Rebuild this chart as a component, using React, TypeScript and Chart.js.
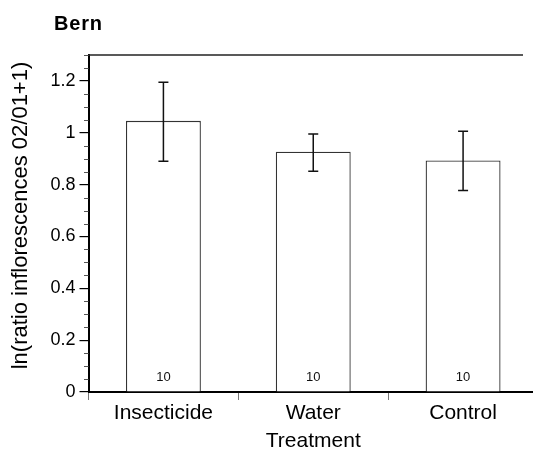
import React, { useEffect, useRef } from "react";
import { Chart, registerables } from "chart.js";

Chart.register(...registerables);

const categories = ["Insecticide", "Water", "Control"];
const means = [1.046, 0.927, 0.893];
const errHigh = [1.195, 0.995, 1.006];
const errLow = [0.89, 0.852, 0.777];
const sampleSizes = [10, 10, 10];
const chartTitle = "Bern";
const xTitle = "Treatment";
const yTitle = "ln(ratio inflorescences 02/01+1)";

const FONT = "'Liberation Sans', Arial, Helvetica, sans-serif";

const isMajor = (v: number) => Math.abs(v / 0.2 - Math.round(v / 0.2)) < 1e-6;

const overlay = {
  id: "overlay",
  afterDatasetsDraw(chart: any) {
    const { ctx, chartArea, scales } = chart;
    const x = scales.x;
    const y = scales.y;
    ctx.save();
    ctx.strokeStyle = "#111";
    ctx.lineWidth = 1.5;
    categories.forEach((_, i) => {
      const px = x.getPixelForValue(i);
      const yl = y.getPixelForValue(errLow[i]);
      const yh = y.getPixelForValue(errHigh[i]);
      ctx.beginPath();
      ctx.moveTo(px, yl);
      ctx.lineTo(px, yh);
      ctx.moveTo(px - 5, yl);
      ctx.lineTo(px + 5, yl);
      ctx.moveTo(px - 5, yh);
      ctx.lineTo(px + 5, yh);
      ctx.stroke();
      ctx.fillStyle = "#111";
      ctx.font = `13px ${FONT}`;
      ctx.textAlign = "center";
      ctx.textBaseline = "middle";
      ctx.fillText(String(sampleSizes[i]), px, chartArea.bottom - 15);
    });
    ctx.restore();
  },
  afterDraw(chart: any) {
    const { ctx, chartArea, scales } = chart;
    const y = scales.y;
    ctx.save();
    // top frame line
    ctx.strokeStyle = "#222";
    ctx.lineWidth = 1.6;
    ctx.beginPath();
    ctx.moveTo(chartArea.left, chartArea.top);
    ctx.lineTo(chartArea.right - 15, chartArea.top);
    ctx.stroke();
    // minor ticks
    ctx.strokeStyle = "#555";
    ctx.lineWidth = 1;
    y.ticks.forEach((t: any, i: number) => {
      if (isMajor(t.value)) return;
      const py = Math.round(y.getPixelForTick(i)) + 0.5;
      ctx.beginPath();
      ctx.moveTo(chartArea.left - 4.5, py);
      ctx.lineTo(chartArea.left, py);
      ctx.stroke();
    });
    // y-axis title
    ctx.save();
    ctx.translate(21, (chartArea.top + chartArea.bottom) / 2 - 8);
    ctx.rotate(-Math.PI / 2);
    ctx.fillStyle = "#000";
    ctx.font = `22px ${FONT}`;
    ctx.textAlign = "center";
    ctx.textBaseline = "middle";
    ctx.fillText(yTitle, 0, 0);
    ctx.restore();
    // title
    ctx.fillStyle = "#000";
    ctx.font = `bold 20px ${FONT}`;
    (ctx as any).letterSpacing = "0.8px";
    ctx.textAlign = "left";
    ctx.textBaseline = "alphabetic";
    ctx.fillText(chartTitle, 54, 30);
    ctx.restore();
  },
};

export default function App() {
  const ref = useRef<HTMLCanvasElement>(null);
  useEffect(() => {
    document.body.style.margin = "0";
    document.body.style.overflow = "hidden";
    document.documentElement.style.overflow = "hidden";
    const chart = new Chart(ref.current as HTMLCanvasElement, {
      type: "bar",
      data: {
        labels: categories,
        datasets: [
          {
            data: means,
            backgroundColor: "#ffffff",
            borderColor: "#333333",
            borderWidth: 1.3,
            barPercentage: 0.5,
            categoryPercentage: 1,
          },
        ],
      },
      options: {
        responsive: false,
        animation: false,
        devicePixelRatio: 1,
        layout: { padding: { top: 55, left: 0, right: 0, bottom: 0 } },
        plugins: { legend: { display: false }, tooltip: { enabled: false }, title: { display: false } },
        scales: {
          x: {
            offset: true,
            grid: { display: true, drawOnChartArea: false, tickLength: 8, color: "#777", offset: true, lineWidth: 1 },
            border: { display: true, color: "#000", width: 2 },
            ticks: { color: "#000", font: { family: FONT, size: 21 }, padding: 1 },
            title: {
              display: true,
              text: xTitle,
              color: "#000",
              font: { family: FONT, size: 21, lineHeight: 1 },
              padding: { top: 0, bottom: 0 },
            },
            afterFit: (s: any) => {
              s.height = 60;
            },
          },
          y: {
            min: 0,
            max: 1.3,
            ticks: {
              stepSize: 0.05,
              color: "#000",
              font: { family: FONT, size: 18 },
              padding: 4,
              autoSkip: false,
              callback: (v: any) => (isMajor(Number(v)) ? String(Number(Number(v).toFixed(1))) : ""),
            },
            grid: {
              drawOnChartArea: false,
              tickLength: 9,
              lineWidth: 1.2,
              color: (c: any) => (c.tick && isMajor(c.tick.value) ? "#000" : "rgba(0,0,0,0)"),
            },
            border: { display: true, color: "#000", width: 2 },
            title: { display: false },
            afterFit: (s: any) => {
              s.width = 88.5;
            },
          },
        },
      },
      plugins: [overlay],
    });
    return () => chart.destroy();
  }, []);
  return (
    <div style={{ position: "fixed", left: 0, top: 0, width: 538, height: 452, background: "#fff" }}>
      <canvas ref={ref} width={538} height={452} style={{ display: "block" }} />
    </div>
  );
}
